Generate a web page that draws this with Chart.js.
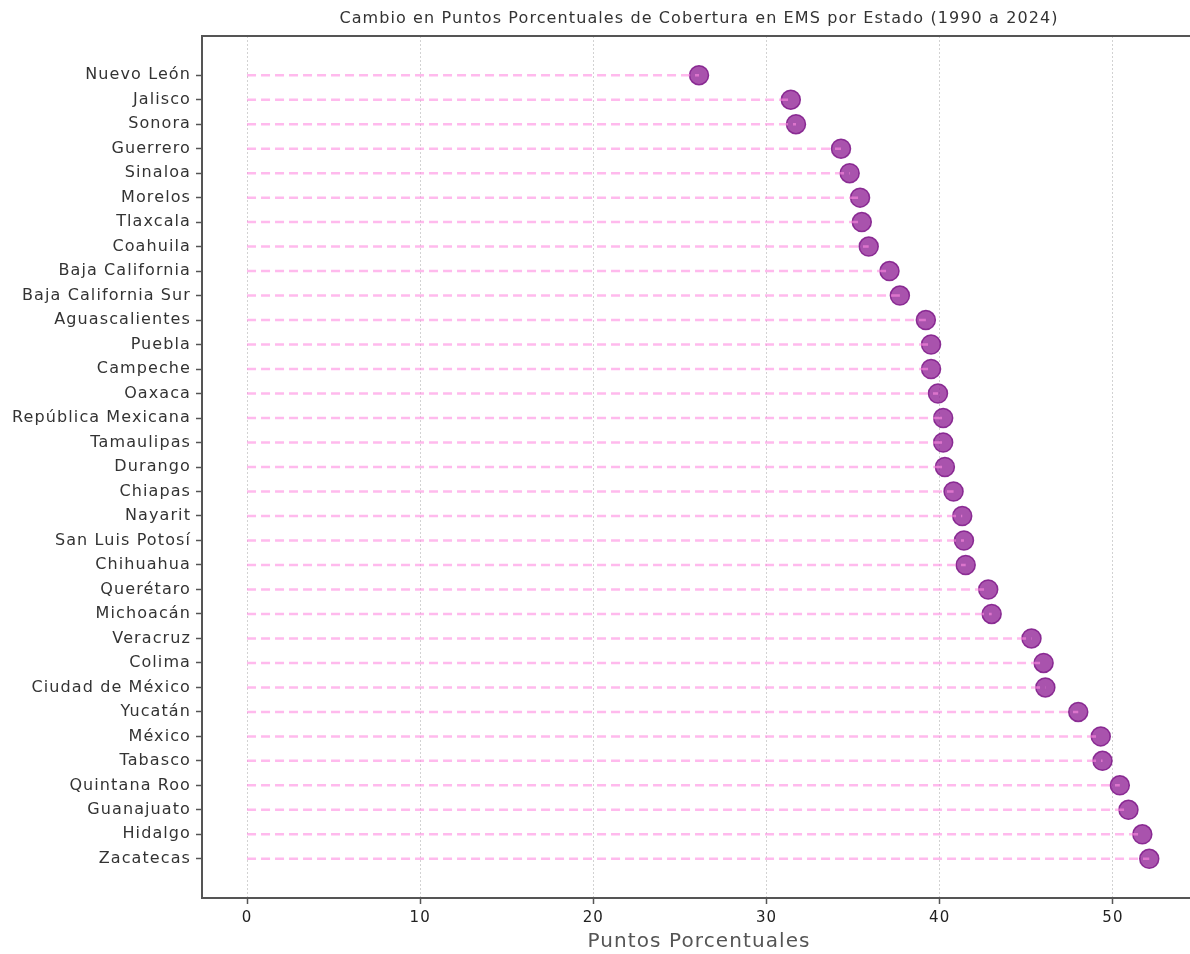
<!DOCTYPE html>
<html lang="es">
<head>
<meta charset="utf-8">
<title>Cambio en Puntos Porcentuales de Cobertura en EMS</title>
<script src="https://cdn.jsdelivr.net/npm/chart.js@4.4.0/dist/chart.umd.min.js"></script>
<style>
    html, body { margin: 0; padding: 0; background: #fff; overflow: hidden; width: 1190px; height: 954px; }
    #grafico { display: block; }
</style>
</head>
<body>
<!-- el lienzo es un poco mas ancho: el grafico original esta recortado a la derecha -->
<canvas id="grafico" width="1207" height="954"></canvas>
<script>
// datos
const estados = [
    "Nuevo León", "Jalisco", "Sonora", "Guerrero", "Sinaloa", "Morelos", "Tlaxcala",
    "Coahuila", "Baja California", "Baja California Sur", "Aguascalientes", "Puebla",
    "Campeche", "Oaxaca", "República Mexicana", "Tamaulipas", "Durango", "Chiapas",
    "Nayarit", "San Luis Potosí", "Chihuahua", "Querétaro", "Michoacán", "Veracruz",
    "Colima", "Ciudad de México", "Yucatán", "México", "Tabasco", "Quintana Roo",
    "Guanajuato", "Hidalgo", "Zacatecas"
];
const cambio = [
    26.1, 31.4, 31.7, 34.3, 34.8, 35.4, 35.5,
    35.9, 37.1, 37.7, 39.2, 39.5,
    39.5, 39.9, 40.2, 40.2, 40.3, 40.8,
    41.3, 41.4, 41.5, 42.8, 43.0, 45.3,
    46.0, 46.1, 48.0, 49.3, 49.4, 50.4,
    50.9, 51.7, 52.1
];
const ticksX = [0, 10, 20, 30, 40, 50];

const fuente = "'DejaVu Sans', sans-serif";
const colorEje = "#555";

// lineas punteadas desde 0 hasta el valor
const lineas = estados.map((e, i) => ({
    type: "line",
    data: [{ x: 0, y: i }, { x: cambio[i], y: i }],
    borderColor: "rgba(255, 140, 225, 0.6)",
    borderWidth: 2.5,
    borderDash: [9, 5],
    pointRadius: 0,
    fill: false,
    xAxisID: "x",
    yAxisID: "y",
    order: 0
}));

const puntos = {
    type: "scatter",
    data: estados.map((e, i) => ({ x: cambio[i], y: i })),
    backgroundColor: "rgba(145, 35, 150, 0.78)",
    borderColor: "rgba(130, 30, 140, 0.9)",
    borderWidth: 1.5,
    pointRadius: 9.5,
    xAxisID: "x",
    yAxisID: "y",
    order: 1
};

// borde superior del area y espaciado de letras
const bordeSuperior = {
    id: "bordeSuperior",
    beforeDraw(chart) {
        chart.ctx.letterSpacing = "1.1px";
    },
    afterDraw(chart) {
        const { ctx, chartArea } = chart;
        ctx.save();
        ctx.strokeStyle = colorEje;
        ctx.lineWidth = 2;
        ctx.beginPath();
        ctx.moveTo(chartArea.left - 1, chartArea.top);
        ctx.lineTo(chartArea.right, chartArea.top);
        ctx.stroke();
        ctx.restore();
    }
};

const sinPadding = (scale) => {
    scale.paddingLeft = 0;
    scale.paddingRight = 0;
};

new Chart(document.getElementById("grafico"), {
    data: { datasets: [puntos, ...lineas] },
    plugins: [bordeSuperior],
    options: {
        responsive: false,
        animation: false,
        layout: { padding: 0 },
        plugins: {
            legend: { display: false },
            tooltip: { enabled: false },
            title: {
                display: true,
                text: "Cambio en Puntos Porcentuales de Cobertura en EMS por Estado (1990 a 2024)",
                fullSize: false,
                color: "#333",
                font: { family: fuente, size: 16, weight: "normal", lineHeight: 1.2 },
                padding: { top: 9, bottom: 7.8 }
            }
        },
        scales: {
            x: {
                type: "linear",
                position: "bottom",
                min: -2.6,
                max: 54.8,
                afterBuildTicks: (scale) => { scale.ticks = ticksX.map(v => ({ value: v })); },
                afterFit: (scale) => { scale.height = 56; sinPadding(scale); },
                grid: { drawOnChartArea: false, drawTicks: true, tickLength: 6, tickColor: colorEje, tickWidth: 1.5 },
                border: { display: true, color: colorEje, width: 2 },
                ticks: { color: "#222", font: { family: fuente, size: 15 }, padding: 5, maxRotation: 0 },
                title: {
                    display: true,
                    text: "Puntos Porcentuales",
                    color: "#555",
                    font: { family: fuente, size: 20 },
                    padding: { top: 5, bottom: 0 }
                }
            },
            x2: {
                type: "linear",
                position: "bottom",
                min: -2.6,
                max: 54.8,
                afterBuildTicks: (scale) => { scale.ticks = ticksX.map(v => ({ value: v })); },
                afterFit: (scale) => { scale.height = 0; sinPadding(scale); },
                grid: { drawOnChartArea: true, drawTicks: false, color: "#d2d2d2", lineWidth: 1 },
                border: { display: false, dash: [2, 2] },
                ticks: { display: false }
            },
            y: {
                type: "linear",
                reverse: true,
                min: -1.6,
                max: 33.6,
                afterBuildTicks: (scale) => { scale.ticks = estados.map((e, i) => ({ value: i })); },
                afterFit: (scale) => { scale.width = 202; scale.paddingTop = 0; scale.paddingBottom = 0; },
                grid: { drawOnChartArea: false, drawTicks: true, tickLength: 6, tickColor: colorEje, tickWidth: 1.5 },
                border: { display: true, color: colorEje, width: 2 },
                ticks: {
                    autoSkip: false,
                    color: "#333",
                    padding: 5,
                    font: { family: fuente, size: 16 },
                    callback: (v) => estados[v]
                }
            }
        }
    }
});
</script>
</body>
</html>
